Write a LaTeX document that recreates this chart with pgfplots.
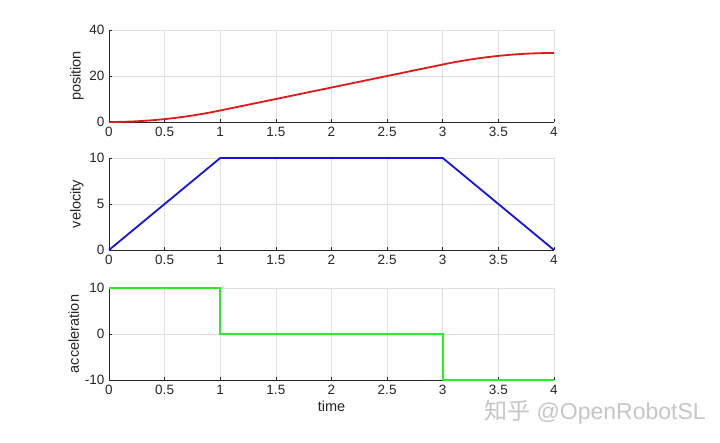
\documentclass[border=0pt]{standalone}
\usepackage{pgfplots}
\pgfplotsset{compat=1.18}
\usepackage{fontspec}
\setmainfont{Liberation Sans}
\newfontfamily\cjk{Noto Sans CJK SC}
\definecolor{axgray}{RGB}{38,38,38}
\definecolor{gridgray}{RGB}{223,223,223}
\definecolor{mred}{RGB}{225,25,25}
\definecolor{mblue}{RGB}{20,20,220}
\definecolor{mgreen}{RGB}{40,240,40}
\pgfplotsset{
  mstyle/.style={
    scale only axis, width=445pt, height=92pt,
    xmin=0, xmax=4,
    axis x line*=bottom, axis y line*=left,
    axis line style={axgray, line width=0.6pt},
    xtick={0,0.5,...,4},
    xticklabels={0,0.5,1,1.5,2,2.5,3,3.5,4},
    tick style={axgray, line width=0.6pt},
    major tick length=3pt,
    tick align=inside,
    grid=major,
    major grid style={gridgray, line width=0.6pt},
    ticklabel style={font=\fontsize{13.5}{15}\selectfont, text=axgray},
    xticklabel style={yshift=-2pt},
    yticklabel style={xshift=-1pt},
    label style={font=\fontsize{14.5}{16}\selectfont, text=axgray},
    ylabel style={yshift=-1pt},
    /pgf/number format/assume math mode=true,
    clip=false,
  }
}
\begin{document}
\begin{tikzpicture}
\path[use as bounding box] (0pt,0pt) rectangle (720pt,442pt);
\fill[white] (0pt,0pt) rectangle (720pt,442pt);
% position
\begin{axis}[mstyle, at={(109pt,320pt)}, anchor=south west,
  ymin=0, ymax=40, ytick={0,20,40}, ylabel={position}]
\addplot[mred, line width=1.8pt] coordinates {
(0,0) (0.1,0.05) (0.2,0.2) (0.3,0.45) (0.4,0.8) (0.5,1.25) (0.6,1.8) (0.7,2.45) (0.8,3.2) (0.9,4.05) (1,5)
(3,25) (3.1,25.95) (3.2,26.8) (3.3,27.55) (3.4,28.2) (3.5,28.75) (3.6,29.2) (3.7,29.55) (3.8,29.8) (3.9,29.95) (4,30)};
\end{axis}
% velocity
\begin{axis}[mstyle, at={(109pt,192pt)}, anchor=south west,
  ymin=0, ymax=10, ytick={0,5,10}, ylabel={velocity}]
\addplot[mblue, line width=1.8pt] coordinates {(0,0) (1,10) (3,10) (4,0)};
\end{axis}
% acceleration
\begin{axis}[mstyle, at={(109pt,62pt)}, anchor=south west,
  ymin=-10, ymax=10, ytick={-10,0,10}, yticklabels={-10,0,10},
  ylabel={acceleration}, xlabel={time}, xlabel style={yshift=1pt}]
\addplot[mgreen, line width=1.8pt] coordinates {(0,10) (1,10) (1,0) (3,0) (3,-10) (4,-10)};
\end{axis}
% watermark
\node[anchor=west, text=gray!45, font=\fontsize{23}{25}\selectfont, inner sep=0pt] at (484pt,30pt) {{\cjk 知乎} @OpenRobotSL};
\end{tikzpicture}
\end{document}
